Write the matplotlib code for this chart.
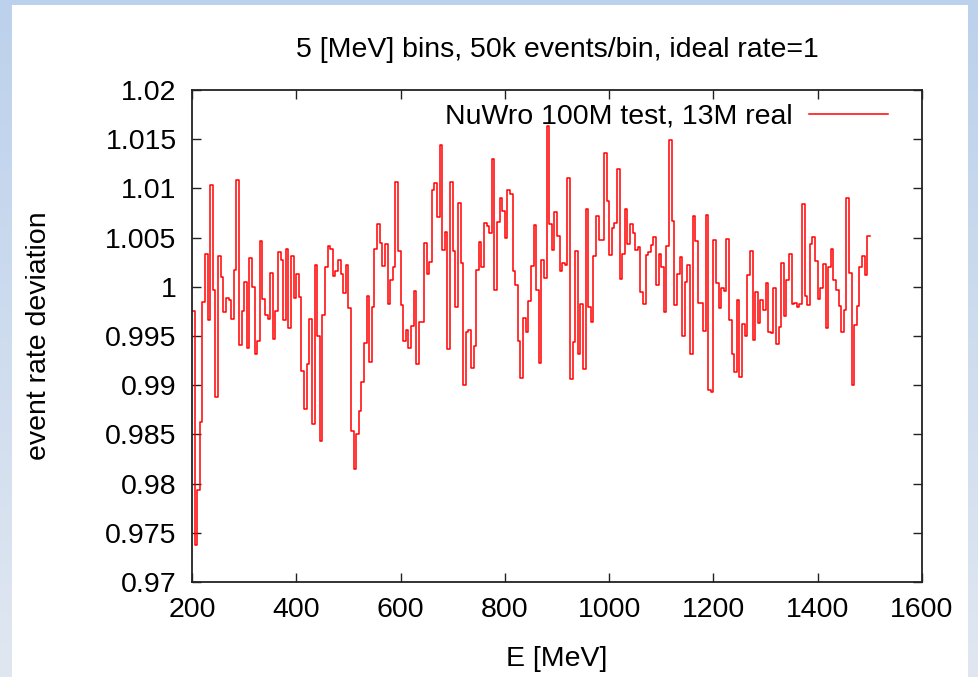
import numpy as np
import matplotlib.pyplot as plt
from matplotlib.patches import Rectangle
from matplotlib.colors import LinearSegmentedColormap

# bin contents, one value per 5 MeV bin from 200 MeV to 1500 MeV
rate = [
    0.9975, 0.9738, 0.9794, 0.9863, 0.9985, 1.0033, 0.9966, 1.0103, 0.9997, 0.9888,
    1.0031, 1.0010, 0.9974, 0.9989, 0.9987, 0.9967, 1.0017, 1.0109, 0.9941, 0.9975,
    1.0005, 0.9938, 1.0029, 1.0000, 0.9932, 0.9945, 1.0047, 0.9988, 0.9971, 0.9967,
    1.0014, 0.9947, 0.9975, 1.0035, 1.0027, 0.9966, 1.0038, 0.9958, 1.0031, 0.9989,
    1.0013, 0.9990, 0.9914, 0.9876, 0.9922, 0.9967, 0.9861, 1.0022, 0.9950, 0.9843,
    0.9971, 1.0020, 1.0041, 1.0038, 1.0011, 1.0016, 1.0027, 1.0013, 0.9994, 1.0022,
    0.9978, 0.9853, 0.9815, 0.9850, 0.9874, 0.9903, 0.9943, 0.9991, 0.9924, 0.9979,
    1.0038, 1.0064, 1.0045, 1.0021, 1.0043, 0.9983, 1.0007, 1.0020, 1.0106, 1.0036,
    0.9982, 0.9945, 0.9956, 0.9938, 0.9960, 0.9996, 0.9922, 0.9964, 0.9964, 1.0045,
    1.0013, 1.0025, 1.0098, 1.0105, 1.0071, 1.0144, 1.0037, 1.0056, 0.9937, 1.0106,
    1.0036, 0.9979, 1.0085, 1.0024, 0.9900, 0.9954, 0.9956, 0.9917, 0.9940, 1.0017,
    1.0046, 1.0020, 1.0065, 1.0062, 1.0055, 1.0130, 0.9997, 1.0066, 1.0090, 1.0077,
    1.0050, 1.0098, 1.0094, 1.0016, 1.0002, 0.9945, 0.9907, 0.9968, 0.9954, 0.9986,
    1.0021, 1.0063, 0.9997, 0.9923, 1.0027, 1.0009, 1.0163, 1.0064, 1.0037, 1.0076,
    1.0052, 1.0016, 1.0024, 1.0022, 1.0111, 0.9906, 0.9944, 1.0036, 0.9932, 0.9983,
    0.9916, 1.0079, 0.9979, 0.9964, 1.0031, 1.0072, 1.0048, 1.0048, 1.0136, 1.0087,
    1.0032, 1.0060, 1.0065, 1.0120, 1.0008, 1.0033, 1.0079, 1.0043, 1.0064, 1.0055,
    1.0037, 1.0040, 0.9995, 0.9983, 1.0032, 1.0035, 1.0042, 1.0051, 1.0002, 1.0033,
    1.0020, 0.9974, 1.0041, 1.0149, 1.0067, 0.9982, 1.0013, 1.0030, 0.9950, 1.0005,
    1.0022, 0.9932, 1.0072, 1.0047, 0.9984, 0.9984, 0.9955, 1.0073, 0.9895, 0.9893,
    1.0048, 1.0004, 0.9978, 0.9999, 0.9996, 1.0049, 0.9966, 0.9932, 0.9913, 0.9987,
    0.9908, 0.9962, 0.9950, 1.0012, 1.0036, 0.9946, 0.9995, 0.9963, 0.9987, 0.9976,
    1.0004, 0.9954, 0.9953, 0.9999, 0.9942, 0.9959, 1.0024, 0.9970, 1.0007, 1.0033,
    0.9983, 0.9984, 0.9979, 0.9983, 1.0084, 0.9991, 0.9982, 1.0043, 1.0051, 1.0026,
    0.9988, 0.9999, 1.0023, 0.9958, 1.0020, 1.0038, 1.0007, 0.9997, 0.9980, 0.9954,
    0.9976, 1.0090, 1.0014, 0.9900, 0.9961, 0.9980, 1.0020, 1.0031, 1.0012, 1.0052,
]
bin_width = 5
e_start = 200

x_ticks = [200, 400, 600, 800, 1000, 1200, 1400, 1600]
y_ticks = [0.97, 0.975, 0.98, 0.985, 0.99, 0.995, 1.0, 1.005, 1.01, 1.015, 1.02]
y_tick_labels = ['0.97', '0.975', '0.98', '0.985', '0.99', '0.995', '1',
                 '1.005', '1.01', '1.015', '1.02']

title = '5 [MeV] bins, 50k events/bin, ideal rate=1'
series_label = 'NuWro 100M test, 13M real'

plt.rcParams['font.family'] = ['Liberation Sans', 'DejaVu Sans']
fs = 20.5

fig = plt.figure(figsize=(9.79, 6.77), dpi=100)

# slide background: light blue gradient behind a white panel
bg = fig.add_axes([0, 0, 1, 1], zorder=-20)
grad_cmap = LinearSegmentedColormap.from_list('slide', ['#bcd1ec', '#e0e7f1'])
bg.imshow(np.linspace(0, 1, 256).reshape(-1, 1), cmap=grad_cmap, aspect='auto',
          extent=[0, 1, 0, 1], origin='upper')
bg.add_patch(Rectangle((12 / 979, 0), 956 / 979, 1 - 5 / 677,
                       facecolor='white', edgecolor='none'))
bg.set_xlim(0, 1)
bg.set_ylim(0, 1)
bg.axis('off')

ax = fig.add_axes([192 / 979, 1 - 582 / 677, 730 / 979, 492 / 677])
ax.set_zorder(1)
ax.patch.set_alpha(0)

edges = e_start + bin_width * np.arange(len(rate) + 1)
ax.step(edges, list(rate) + [rate[-1]], where='post', color='#ff0000', lw=1.1,
        label=series_label)

ax.set_xlim(200, 1600)
ax.set_ylim(0.97, 1.02)
ax.set_xticks(x_ticks)
ax.set_yticks(y_ticks)
ax.set_yticklabels(y_tick_labels)
ax.tick_params(direction='in', length=6.5, width=1.0, top=True, right=True,
               labelsize=fs, color='#222222')
ax.tick_params(axis='x', pad=11)
ax.tick_params(axis='y', pad=11)
for s in ax.spines.values():
    s.set_linewidth(1.3)
    s.set_color('#222222')

ax.set_xlabel('E [MeV]', fontsize=fs)
ax.xaxis.set_label_coords(0.5, -0.130)
ax.set_ylabel('event rate deviation', fontsize=fs)
ax.yaxis.set_label_coords(-0.192, 0.5)
ax.set_title(title, fontsize=fs, pad=24)

ax.legend(loc='upper right', bbox_to_anchor=(0.953, 0.972), frameon=False,
          fontsize=fs, markerfirst=False, handlelength=2.75, borderpad=0,
          borderaxespad=0, handletextpad=0.6)

fig.savefig('out.png', dpi=100)
